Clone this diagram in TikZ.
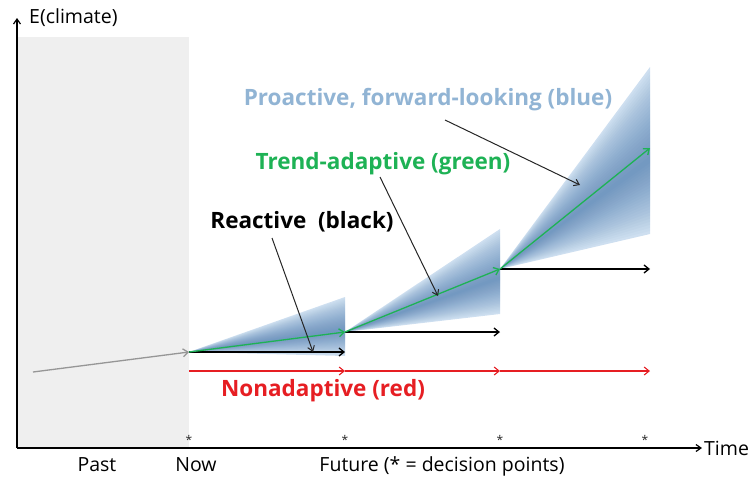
\documentclass[tikz,border=0pt]{standalone}
\usepackage{fontspec}
\setmainfont{Open Sans}
\usetikzlibrary{arrows.meta}
\definecolor{pastgrey}{RGB}{239,239,239}
\definecolor{fanblue}{RGB}{60,110,170}
\definecolor{fanlight}{RGB}{212,228,243}
\definecolor{lblblue}{RGB}{145,180,212}
\definecolor{trendgreen}{RGB}{30,178,85}
\definecolor{nonred}{RGB}{230,30,35}
\definecolor{histgrey}{RGB}{150,150,150}
\tikzset{
  axis/.style={line width=1.2pt,-{Straight Barb[length=5pt,width=7pt]}},
  reactarrow/.style={line width=1.3pt,black,-{Straight Barb[length=5pt,width=8pt]}},
  greenarrow/.style={line width=1.3pt,trendgreen,-{Straight Barb[length=5pt,width=8pt]}},
  redarrow/.style={line width=1.1pt,nonred,-{Straight Barb[length=5pt,width=8pt]}},
  pointer/.style={line width=1pt,black!85,-{Straight Barb[length=5pt,width=7pt]}},
  biglabel/.style={font=\fontsize{22.5}{24}\selectfont\bfseries,inner sep=0pt},
  axlabel/.style={font=\fontsize{19.5}{21}\selectfont,inner sep=0pt},
  star/.style={font=\fontsize{12}{13}\selectfont,inner sep=0pt,black!85}
}
\newcommand{\fan}[5]{% apex (#1), right x #2, top #3, bottom #4, center #5
  \fill[fanlight] (#1) -- (#2,#3) -- (#2,#4) -- cycle;
  \foreach \k in {1,...,24}{
    \pgfmathsetmacro{\tt}{#5-(#5-#3)*\k/24}
    \pgfmathsetmacro{\bb}{#5+(#4-#5)*\k/24}
    \fill[fanblue,opacity=0.035] (#1) -- (#2,\tt) -- (#2,\bb) -- cycle;
  }
}
\begin{document}
\begin{tikzpicture}[x=1pt,y=-1pt]
\useasboundingbox (0,0) rectangle (753,477);
% past region
\fill[pastgrey] (17,37) rectangle (189,448);
% decision points
\coordinate (d0) at (189,352);
\coordinate (d1) at (345,332);
\coordinate (d2) at (500,269);
\coordinate (d3) at (650,148);
% fans
\fan{189,352}{345}{297}{356}{330}
\fan{345,332}{500}{229}{314}{278}
\fan{500,269}{650}{67}{234}{160}
% axes
\coordinate (o) at (17,448);
\coordinate (ytop) at (17,18);
\coordinate (xend) at (702,448);
\draw[axis] (o) -- (ytop);
\draw[axis] (o) -- (xend);
\node[axlabel,anchor=west] (ylab) at (29,18) {E(climate)};
\node[axlabel,anchor=west] (xlab) at (704,448) {Time};
% history
\coordinate (h0) at (33,372);
\draw[line width=1.3pt,histgrey,-{Straight Barb[length=5pt,width=8pt]}] (h0) -- (d0);
% red nonadaptive
\coordinate (r0) at (189,371);
\coordinate (r1) at (345,371);
\coordinate (r2) at (500,371);
\coordinate (r3) at (650,371);
\draw[redarrow] (r0) -- (r1);
\draw[redarrow] (r1) -- (r2);
\draw[redarrow] (r2) -- (r3);
% black reactive
\coordinate (b1) at (345,352);
\coordinate (b2) at (500,332);
\coordinate (b3) at (650,269);
\draw[reactarrow] (d0) -- (b1);
\draw[reactarrow] (d1) -- (b2);
\draw[reactarrow] (d2) -- (b3);
% green trend-adaptive
\draw[greenarrow] (d0) -- (d1);
\draw[greenarrow] (d1) -- (d2);
\draw[greenarrow] (d2) -- (d3);
% labels
\node[biglabel,text=lblblue] (lblue) at (428,100) {Proactive, forward-looking (blue)};
\node[biglabel,text=trendgreen] (lgreen) at (383,164) {Trend-adaptive (green)};
\node[biglabel,text=black] (lblack) at (302,222) {Reactive~~(black)};
\node[biglabel,text=nonred] (lred) at (323,391) {Nonadaptive (red)};
% pointers
\coordinate (pb) at (580,185);
\coordinate (pg) at (438,296);
\coordinate (pk) at (313,352);
\draw[pointer] (445,120) -- (pb);
\draw[pointer] (380,177) -- (pg);
\draw[pointer] (272,238) -- (pk);
% stars
\node[star] (s0) at (189,440) {*};
\node[star] (s1) at (345,440) {*};
\node[star] (s2) at (500,440) {*};
\node[star] (s3) at (645,440) {*};
% time labels
\node[axlabel] (past) at (97,465) {Past};
\node[axlabel] (now) at (196,465) {Now};
\node[axlabel] (fut) at (442,466) {Future (* = decision points)};
\end{tikzpicture}
\end{document}
